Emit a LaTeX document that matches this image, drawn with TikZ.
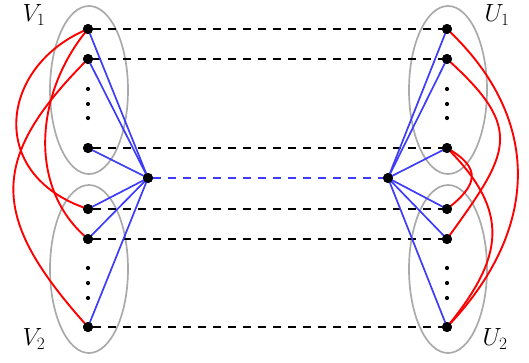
\documentclass[tikz,border=0pt]{standalone}
\definecolor{myblue}{RGB}{60,60,250}
\definecolor{mygray}{RGB}{170,170,170}
\tikzset{
  vtx/.style={circle,fill=black,inner sep=0pt,minimum size=10pt},
  sdot/.style={circle,fill=black,inner sep=0pt,minimum size=4.2pt},
  grp/.style={draw=mygray,line width=1.7pt},
  redge/.style={red,line width=1.9pt},
  bedge/.style={myblue,line width=1.7pt},
  dedge/.style={black,line width=1.9pt,dash pattern=on 8pt off 7pt},
  bdedge/.style={myblue,line width=1.9pt,dash pattern=on 8pt off 7pt},
  lab/.style={font=\fontsize{25}{26}\selectfont}
}
\begin{document}
\begin{tikzpicture}[x=1pt,y=-1pt]
\useasboundingbox (0,0) rectangle (529,362);
% groups
\draw[grp] (89,90) ellipse [x radius=39, y radius=84];
\draw[grp] (89,269) ellipse [x radius=39, y radius=84];
\draw[grp] (448,90) ellipse [x radius=39, y radius=84];
\draw[grp] (448,269) ellipse [x radius=39, y radius=84];
% labels
\node[lab] (lv1) at (34,15) {$V_1$};
\node[lab] (lv2) at (34,339) {$V_2$};
\node[lab] (lu1) at (497,15) {$U_1$};
\node[lab] (lu2) at (495,339) {$U_2$};
% left vertices
\node[vtx] (a1) at (88,29) {};
\node[vtx] (a2) at (88,59) {};
\node[vtx] (a3) at (88,148) {};
\node[vtx] (a4) at (88,209) {};
\node[vtx] (a5) at (88,239) {};
\node[vtx] (a6) at (88,327) {};
% right vertices
\node[vtx] (b1) at (447,29) {};
\node[vtx] (b2) at (447,59) {};
\node[vtx] (b3) at (447,148) {};
\node[vtx] (b4) at (447,209) {};
\node[vtx] (b5) at (447,239) {};
\node[vtx] (b6) at (447,327) {};
% hubs
\node[vtx] (h1) at (148,178) {};
\node[vtx] (h2) at (388,178) {};
% small dots
\node[sdot] (d1) at (88,89) {};
\node[sdot] (d2) at (88,104) {};
\node[sdot] (d3) at (88,118) {};
\node[sdot] (d4) at (88,268) {};
\node[sdot] (d5) at (88,283) {};
\node[sdot] (d6) at (88,298) {};
\node[sdot] (e1) at (447,89) {};
\node[sdot] (e2) at (447,104) {};
\node[sdot] (e3) at (447,118) {};
\node[sdot] (e4) at (447,268) {};
\node[sdot] (e5) at (447,283) {};
\node[sdot] (e6) at (447,298) {};
% dashed
\foreach \i in {1,...,6} {\draw[dedge] (a\i) -- (b\i);}
\draw[bdedge] (h1) -- (h2);
% blue
\foreach \i in {1,...,6} {\draw[bedge] (h1.center) -- (a\i.center); \draw[bedge] (h2.center) -- (b\i.center);}
% red left
\draw[redge] (a1.center) .. controls (0,65) and (-15,175) .. (a4.center);
\draw[redge] (a1.center) .. controls (36,91) and (26,187) .. (a5.center);
\draw[redge] (a2.center) .. controls (-14,161) and (-9,219) .. (a6.center);
% red right
\draw[redge] (b1.center) .. controls (544,120) and (539,231) .. (b6.center);
\draw[redge] (b2.center) .. controls (526,130) and (509,153) .. (b5.center);
\draw[redge] (b3.center) .. controls (482,168) and (478,185) .. (b4.center);
\draw[redge] (b3.center) .. controls (511,212) and (504,257) .. (b6.center);
% redraw vertices on top
\foreach \n in {a1,a2,a3,a4,a5,a6,b1,b2,b3,b4,b5,b6,h1,h2} {\fill (\n) circle (5pt);}
\end{tikzpicture}
\end{document}
